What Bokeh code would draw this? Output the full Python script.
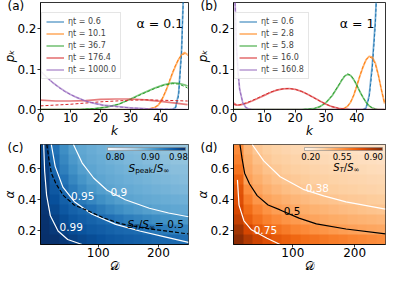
import numpy as np
from bokeh.plotting import figure
from bokeh.layouts import row, column
from bokeh.models import (Range1d, FixedTicker, PrintfTickFormatter, Label, Legend,
                          LegendItem, LinearColorMapper, ColorBar, Title)
from bokeh.palettes import Blues256, Oranges256
from bokeh.embed import file_html
from bokeh.resources import INLINE

# ---------------- panel (a): alpha = 0.1 ----------------
A_LABELS = ["ηt = 0.6", "ηt = 10.1", "ηt = 36.7", "ηt = 176.4", "ηt = 1000.0"]
a1_k = [0, 44, 45, 46, 47, 48, 49]
a1_sim = [0.0, 0.0, 0.006, 0.04, 0.15, 0.38, 0.70]
a1_th = [0.0, 0.0, 0.004, 0.034, 0.14, 0.37, 0.69]
a2_k = [0, 34, 36, 38, 39, 40, 41, 42, 43, 44, 45, 46, 47, 48, 49]
a2_sim = [0.0, 0.0, 0.001, 0.005, 0.009, 0.018, 0.033, 0.050, 0.070, 0.090, 0.108, 0.124, 0.136, 0.141, 0.136]
a2_th = [0.0, 0.0, 0.001, 0.005, 0.010, 0.019, 0.034, 0.052, 0.072, 0.092, 0.110, 0.125, 0.135, 0.138, 0.134]
a3_k = [0, 10, 14, 18, 22, 26, 30, 34, 38, 41, 44, 46, 48, 49]
a3_sim = [0.0, 0.0, 0.0005, 0.002, 0.006, 0.013, 0.026, 0.040, 0.053, 0.061, 0.066, 0.065, 0.061, 0.058]
a3_th = [0.0, 0.0, 0.0005, 0.002, 0.006, 0.013, 0.025, 0.039, 0.052, 0.060, 0.064, 0.063, 0.057, 0.053]
a4_k = [0, 5, 10, 15, 20, 25, 30, 35, 40, 45, 49]
a4_sim = [0.023, 0.021, 0.021, 0.022, 0.025, 0.026, 0.026, 0.024, 0.020, 0.016, 0.012]
a4_th = [0.009, 0.011, 0.013, 0.016, 0.019, 0.021, 0.023, 0.024, 0.023, 0.022, 0.021]
a5_k = [0, 2, 4, 6, 8, 10, 12, 15, 18, 21, 25, 30, 35, 40, 45, 49]
a5_sim = [0.095, 0.080, 0.067, 0.056, 0.046, 0.037, 0.030, 0.021, 0.015, 0.011, 0.008, 0.004, 0.002, 0.001, 0.0003, 0.0]
a5_th = [0.096, 0.081, 0.067, 0.055, 0.045, 0.037, 0.030, 0.021, 0.015, 0.010, 0.007, 0.004, 0.002, 0.001, 0.0003, 0.0]

# ---------------- panel (b): alpha = 1 ----------------
B_LABELS = ["ηt = 0.6", "ηt = 2.8", "ηt = 5.8", "ηt = 16.0", "ηt = 160.8"]
b1_k = [0, 42, 43, 44, 45, 46, 47]
b1_sim = [0.0, 0.0, 0.004, 0.035, 0.11, 0.22, 0.40]
b1_th = [0.0, 0.0, 0.003, 0.030, 0.10, 0.21, 0.39]
b2_k = [0, 34, 36, 37, 38, 39, 40, 41, 42, 43, 44, 45, 46, 47, 48, 49]
b2_sim = [0.0, 0.0, 0.003, 0.008, 0.018, 0.035, 0.058, 0.083, 0.105, 0.123, 0.132, 0.130, 0.115, 0.085, 0.048, 0.015]
b2_th = [0.0, 0.0, 0.003, 0.008, 0.019, 0.036, 0.059, 0.084, 0.106, 0.124, 0.130, 0.127, 0.113, 0.084, 0.048, 0.016]
b3_k = [0, 22, 24, 26, 28, 30, 32, 34, 35, 36, 37, 38, 39, 40, 41, 42, 43, 44, 45, 46, 47, 49]
b3_sim = [0.0, 0.0, 0.001, 0.002, 0.007, 0.017, 0.034, 0.058, 0.071, 0.082, 0.087, 0.084, 0.074, 0.060, 0.044, 0.030, 0.018, 0.009, 0.004, 0.001, 0.0, 0.0]
b3_th = [0.0, 0.0, 0.001, 0.002, 0.007, 0.017, 0.035, 0.059, 0.072, 0.083, 0.088, 0.085, 0.075, 0.060, 0.044, 0.030, 0.018, 0.009, 0.004, 0.001, 0.0, 0.0]
b4_k = [0, 1, 2, 4, 6, 8, 10, 12, 14, 16, 18, 20, 22, 24, 26, 28, 30, 32, 34, 36, 38, 49]
b4_sim = [0.016, 0.011, 0.011, 0.015, 0.021, 0.028, 0.035, 0.042, 0.048, 0.051, 0.052, 0.050, 0.045, 0.038, 0.030, 0.021, 0.013, 0.007, 0.003, 0.001, 0.0, 0.0]
b4_th = [0.012, 0.011, 0.012, 0.016, 0.022, 0.029, 0.036, 0.043, 0.048, 0.051, 0.052, 0.050, 0.045, 0.038, 0.029, 0.021, 0.013, 0.007, 0.003, 0.001, 0.0, 0.0]
b5_k = [0, 0.5, 1, 1.5, 2, 3, 4, 5, 6, 49]
b5_sim = [0.45, 0.27, 0.15, 0.09, 0.05, 0.017, 0.005, 0.001, 0.0, 0.0]
b5_th = [0.45, 0.27, 0.15, 0.09, 0.05, 0.017, 0.005, 0.001, 0.0, 0.0]

K_TICKS = [0, 10, 20, 30, 40]
P_TICKS = [0.0, 0.1, 0.2]

# ---------------- panel (c): S_peak / S_inf heat map (rows: alpha high -> low) ----------------
D_RANGE = [4, 250]
A_RANGE = [0.11, 0.755]
S_PEAK = [
    [0.981, 0.943, 0.920, 0.904, 0.896, 0.891, 0.887, 0.883, 0.880, 0.877, 0.875, 0.872, 0.870, 0.868, 0.866, 0.865],
    [0.984, 0.949, 0.926, 0.910, 0.899, 0.894, 0.890, 0.886, 0.883, 0.880, 0.878, 0.875, 0.874, 0.871, 0.869, 0.868],
    [0.987, 0.954, 0.933, 0.917, 0.905, 0.898, 0.893, 0.890, 0.887, 0.884, 0.881, 0.879, 0.877, 0.875, 0.873, 0.872],
    [0.990, 0.961, 0.942, 0.926, 0.914, 0.904, 0.898, 0.894, 0.891, 0.888, 0.886, 0.883, 0.881, 0.879, 0.877, 0.875],
    [0.991, 0.966, 0.951, 0.936, 0.923, 0.913, 0.905, 0.899, 0.895, 0.893, 0.890, 0.888, 0.886, 0.884, 0.882, 0.880],
    [0.993, 0.973, 0.959, 0.950, 0.937, 0.927, 0.918, 0.911, 0.904, 0.899, 0.896, 0.894, 0.892, 0.890, 0.889, 0.887],
    [0.995, 0.979, 0.967, 0.958, 0.952, 0.943, 0.935, 0.927, 0.920, 0.914, 0.909, 0.904, 0.900, 0.898, 0.896, 0.895],
    [0.998, 0.986, 0.975, 0.967, 0.961, 0.956, 0.951, 0.946, 0.940, 0.934, 0.929, 0.924, 0.920, 0.916, 0.913, 0.909],
    [0.999, 0.992, 0.983, 0.975, 0.969, 0.964, 0.961, 0.957, 0.954, 0.951, 0.948, 0.943, 0.939, 0.935, 0.932, 0.928],
    [1.000, 0.998, 0.992, 0.986, 0.980, 0.975, 0.971, 0.967, 0.964, 0.961, 0.959, 0.956, 0.954, 0.952, 0.950, 0.947],
]
C99_D = [9.3, 10.9, 14.1, 20.4, 33.2, 49.2, 73.2]
C99_A = [0.755, 0.582, 0.429, 0.295, 0.197, 0.142, 0.11]
C95_D = [22.0, 28.4, 41.2, 60.4, 89.1, 129.0, 169.0, 208.9, 250.0]
C95_A = [0.755, 0.614, 0.480, 0.386, 0.307, 0.240, 0.197, 0.161, 0.124]
C90_D = [58.8, 73.1, 92.3, 114.7, 145.0, 185.0, 216.9, 250.0]
C90_A = [0.755, 0.637, 0.539, 0.460, 0.399, 0.344, 0.313, 0.289]
HALF_D = [14.5, 18.0, 22.0, 30.0, 42.3, 60.0, 79.5, 110.0, 138.1, 186.1, 250.0]
HALF_A = [0.755, 0.660, 0.570, 0.500, 0.425, 0.365, 0.333, 0.280, 0.243, 0.210, 0.178]

# ---------------- panel (d): S_T / S_inf heat map ----------------
S_T = [
    [0.570, 0.432, 0.375, 0.353, 0.336, 0.322, 0.310, 0.300, 0.291, 0.284, 0.277, 0.270, 0.264, 0.259, 0.254, 0.249],
    [0.600, 0.455, 0.402, 0.371, 0.354, 0.341, 0.329, 0.319, 0.310, 0.303, 0.296, 0.289, 0.283, 0.278, 0.273, 0.268],
    [0.640, 0.471, 0.426, 0.395, 0.374, 0.360, 0.349, 0.339, 0.330, 0.322, 0.315, 0.309, 0.303, 0.297, 0.292, 0.287],
    [0.700, 0.498, 0.453, 0.422, 0.398, 0.380, 0.368, 0.358, 0.349, 0.341, 0.334, 0.328, 0.322, 0.317, 0.312, 0.307],
    [0.744, 0.563, 0.484, 0.452, 0.428, 0.408, 0.392, 0.378, 0.369, 0.362, 0.355, 0.348, 0.342, 0.337, 0.332, 0.327],
    [0.760, 0.614, 0.537, 0.490, 0.467, 0.447, 0.431, 0.417, 0.405, 0.394, 0.385, 0.377, 0.371, 0.366, 0.361, 0.356],
    [0.789, 0.661, 0.593, 0.546, 0.510, 0.487, 0.471, 0.457, 0.444, 0.433, 0.423, 0.414, 0.406, 0.398, 0.391, 0.384],
    [0.828, 0.709, 0.646, 0.602, 0.569, 0.542, 0.523, 0.500, 0.488, 0.476, 0.466, 0.457, 0.449, 0.441, 0.434, 0.427],
    [0.900, 0.792, 0.726, 0.680, 0.645, 0.616, 0.592, 0.572, 0.554, 0.538, 0.523, 0.510, 0.499, 0.490, 0.483, 0.476],
    [0.960, 0.866, 0.804, 0.761, 0.728, 0.702, 0.680, 0.660, 0.644, 0.629, 0.615, 0.603, 0.592, 0.581, 0.571, 0.562],
]
C38_D = [34.3, 52.9, 79.5, 116.8, 150.0, 186.1, 250.0]
C38_A = [0.755, 0.649, 0.547, 0.466, 0.424, 0.385, 0.338]
C75_D = [10.4, 12.9, 20.9, 33.0, 58.3, 79.5]
C75_A = [0.527, 0.364, 0.263, 0.205, 0.150, 0.110]

ALPHA_TICKS = [0.2, 0.4, 0.6]
D_TICKS = [100, 200]
CB_C_TICKS = [0.80, 0.90, 0.98]
CB_D_TICKS = [0.20, 0.55, 0.90]

TAB = ["#1f77b4", "#ff7f0e", "#2ca02c", "#d62728", "#9467bd"]
FONT = "DejaVu Sans"

# ---------------- geometry ----------------
FW = 152
FH_TOP = 108
FH_BOT = 101
L_LEFT, L_RIGHT = 36, 3
R_LEFT, R_RIGHT = 42, 1
T_TOP, T_BOT = 2, 30
B_TOP, B_BOT = 4, 30


def make_fig(left, right, top, bottom, fh, xr, yr, xlabel, ylabel, xstyle, tag):
    f = figure(width=left + FW + right, height=top + fh + bottom,
               x_range=Range1d(*xr), y_range=Range1d(*yr),
               output_backend="svg", toolbar_location=None,
               min_border_left=left, min_border_right=right,
               min_border_top=top, min_border_bottom=bottom)
    f.xgrid.visible = False
    f.ygrid.visible = False
    f.outline_line_color = "black"
    f.outline_line_width = 0.8
    for ax in (f.xaxis[0], f.yaxis[0]):
        ax.major_label_text_font = FONT
        ax.major_label_text_font_size = "12px"
        ax.major_label_text_color = "black"
        ax.major_tick_out = 3
        ax.major_tick_in = 0
        ax.minor_tick_out = 0
        ax.minor_tick_in = 0
        ax.axis_line_color = "black"
        ax.axis_line_width = 0.8
        ax.major_tick_line_color = "black"
        ax.major_tick_line_width = 0.8
        ax.axis_label_text_font = FONT
        ax.axis_label_text_font_size = "12px"
        ax.axis_label_text_color = "black"
    f.xaxis.major_label_standoff = 0
    f.yaxis.major_label_standoff = 1
    f.xaxis.axis_label_standoff = -1
    f.yaxis.axis_label_standoff = -3
    f.yaxis.axis_label = ylabel
    f.yaxis.axis_label_text_font_style = "italic"
    f.xaxis.axis_label = xlabel
    f.xaxis.axis_label_text_font_style = xstyle
    t = Title(text=tag, align="left", offset=-33, standoff=-20,
              text_font=FONT, text_font_size="12px", text_font_style="normal",
              text_color="black")
    f.add_layout(t, "above")
    return f


def txt(f, x, y, s, size="12px", color="black", align="center", baseline="middle"):
    f.add_layout(Label(x=x, y=y, text=s, text_font=FONT, text_font_size=size,
                       text_color=color, text_align=align, text_baseline=baseline))


W_EM = {"S": 0.635, "T": 0.611, "p": 0.635, "e": 0.615, "a": 0.613, "k": 0.579,
        "/": 0.337, "∞": 0.833, " ": 0.318, "=": 0.838, "0": 0.636, ".": 0.318, "5": 0.636}


def rich(f, x, y, segs, size, color="black"):
    off = 0.0
    for s, sub, ital in segs:
        fs = size * 0.7 if sub else size
        f.add_layout(Label(x=x, y=y, x_offset=off, y_offset=(-0.28 * size if sub else 0),
                           text=s, text_font=FONT, text_font_size=f"{fs:.1f}px",
                           text_color=color, text_baseline="middle", text_align="left",
                           text_font_style="italic" if ital else "normal"))
        off += sum(W_EM.get(c, 0.6) for c in s) * fs


def top_panel(left, right, tag, alpha_txt, alpha_x, series, labels):
    xr, yr = (0, 49.3), (0, 0.265)
    f = make_fig(left, right, T_TOP, T_BOT, FH_TOP, xr, yr, "k", "pₖ", "italic", tag)
    f.xaxis.ticker = FixedTicker(ticks=K_TICKS)
    f.yaxis.ticker = FixedTicker(ticks=P_TICKS)
    f.yaxis.formatter = PrintfTickFormatter(format="%.1f")
    items = []
    for (k, sim, th), c, lab in zip(series, TAB, labels):
        r = f.line(k, sim, line_color=c, line_width=1.7, line_alpha=0.6)
        f.line(k, th, line_color=c, line_width=1.0, line_dash="3 2")
        items.append(LegendItem(label=lab, renderers=[r]))
    leg = Legend(items=items, location=(1, FH_TOP - 8 - 70), label_text_font=FONT,
                 label_text_font_size="8px", label_height=9, glyph_height=9,
                 glyph_width=18, spacing=3, padding=4, margin=0, label_standoff=4,
                 border_line_color="#cccccc", border_line_width=0.8,
                 background_fill_alpha=0.85)
    f.add_layout(leg)
    txt(f, alpha_x, 0.212, alpha_txt, size="12.5px", align="left")
    return f


def heat_panel(left, right, tag, data, palette, lo, hi, cb_ticks):
    xr, yr = tuple(D_RANGE), tuple(A_RANGE)
    f = make_fig(left, right, B_TOP, B_BOT, FH_BOT, xr, yr, "𝒟", "α", "normal", tag)
    f.xaxis.ticker = FixedTicker(ticks=D_TICKS)
    f.yaxis.ticker = FixedTicker(ticks=ALPHA_TICKS)
    f.yaxis.formatter = PrintfTickFormatter(format="%.1f")
    mapper = LinearColorMapper(palette=palette, low=lo, high=hi)
    f.image(image=[np.flipud(np.array(data))], x=xr[0], y=yr[0],
            dw=xr[1] - xr[0], dh=yr[1] - yr[0], color_mapper=mapper)
    cb = ColorBar(color_mapper=mapper, orientation="horizontal", location="top_right",
                  width=78, height=3, padding=1, margin=2,
                  ticker=FixedTicker(ticks=cb_ticks),
                  formatter=PrintfTickFormatter(format="%.2f"),
                  major_label_text_font=FONT, major_label_text_font_size="8.5px",
                  major_label_text_color="black", label_standoff=2,
                  major_tick_line_color=None, minor_tick_line_color=None,
                  bar_line_color="#888888", bar_line_width=0.6,
                  background_fill_alpha=0, border_line_color=None)
    f.add_layout(cb)
    return f


def light_first(pal):
    pal = list(pal)
    c = pal[0]
    if int(c[1:3], 16) + int(c[3:5], 16) + int(c[5:7], 16) < 380:
        pal = pal[::-1]
    return pal


fa = top_panel(L_LEFT, L_RIGHT, "(a)", "α = 0.1", 32,
               [(a1_k, a1_sim, a1_th), (a2_k, a2_sim, a2_th), (a3_k, a3_sim, a3_th),
                (a4_k, a4_sim, a4_th), (a5_k, a5_sim, a5_th)], A_LABELS)
fb = top_panel(R_LEFT, R_RIGHT, "(b)", "α = 1", 34.5,
               [(b1_k, b1_sim, b1_th), (b2_k, b2_sim, b2_th), (b3_k, b3_sim, b3_th),
                (b4_k, b4_sim, b4_th), (b5_k, b5_sim, b5_th)], B_LABELS)

fc = heat_panel(L_LEFT, L_RIGHT, "(c)", S_PEAK, light_first(Blues256), 0.778, 1.0, CB_C_TICKS)
fc.line(C99_D, C99_A, line_color="white", line_width=1.2)
fc.line(C95_D, C95_A, line_color="white", line_width=1.2)
fc.line(C90_D, C90_A, line_color="white", line_width=1.2)
fc.line(HALF_D, HALF_A, line_color="black", line_width=1.2, line_dash="4 2")
txt(fc, 74.3, 0.425, "0.95", size="10.5px", color="white")
txt(fc, 134.3, 0.446, "0.9", size="10.5px", color="white")
txt(fc, 55.1, 0.226, "0.99", size="10.5px", color="white")
rich(fc, 150.3, 0.606, [("S", False, True), ("peak", True, False), ("/", False, False),
                        ("S", False, True), ("∞", True, False)], 10.5)
rich(fc, 148.7, 0.240, [("S", False, True), ("T", True, True), ("/", False, False),
                        ("S", False, True), ("∞", True, False), (" = 0.5", False, False)], 10.5)

fd = heat_panel(R_LEFT, R_RIGHT, "(d)", S_T, light_first(Oranges256), 0.13, 1.0, CB_D_TICKS)
fd.line(C38_D, C38_A, line_color="white", line_width=1.2)
fd.line(C75_D, C75_A, line_color="white", line_width=1.2)
fd.line(HALF_D, HALF_A, line_color="black", line_width=1.2)
txt(fd, 139.7, 0.476, "0.38", size="10.5px", color="white")
txt(fd, 98.7, 0.324, "0.5", size="10.5px", color="black")
txt(fd, 55.6, 0.205, "0.75", size="10.5px", color="white")
rich(fd, 165.3, 0.606, [("S", False, True), ("T", True, True), ("/", False, False),
                        ("S", False, True), ("∞", True, False)], 10)

p = column(row(fa, fb), row(fc, fd))
open("out.html", "w").write(file_html(p, INLINE))
